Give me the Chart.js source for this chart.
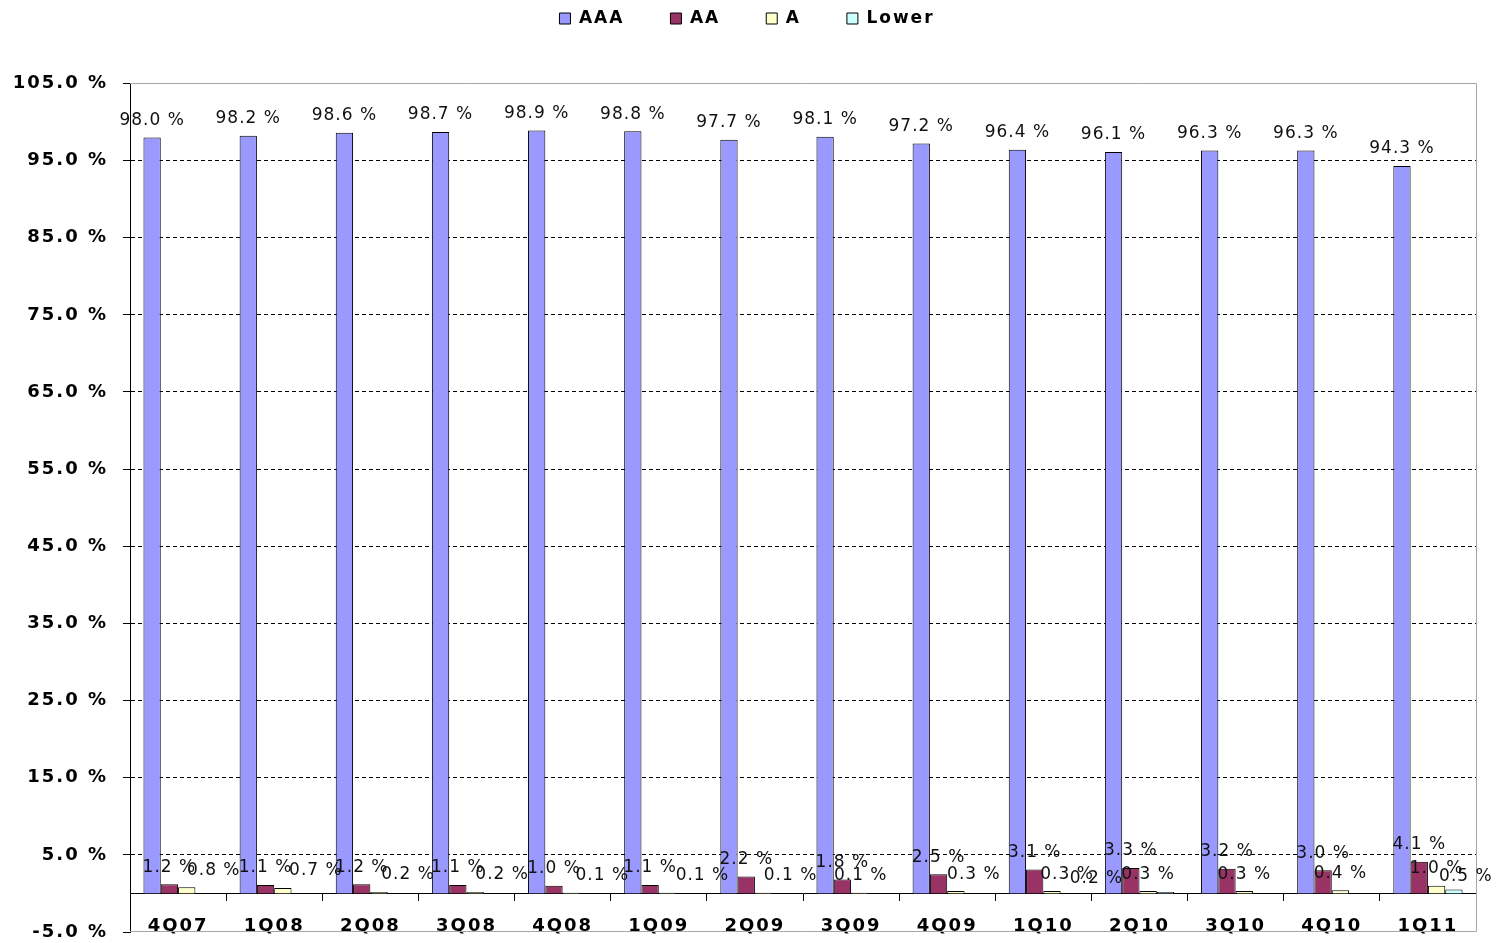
<!DOCTYPE html>
<html>
<head>
<meta charset="utf-8">
<script src="https://cdn.jsdelivr.net/npm/chart.js@4.4.1/dist/chart.umd.min.js"></script>
<style>
  html, body { margin: 0; padding: 0; background: #fff; }
  canvas { display: block; }
</style>
</head>
<body>
<canvas id="chart" width="1498" height="943"></canvas>
<script>
const QUARTERS = ["4Q07", "1Q08", "2Q08", "3Q08", "4Q08", "1Q09", "2Q09", "3Q09", "4Q09", "1Q10", "2Q10", "3Q10", "4Q10", "1Q11"];
const AAA   = [98.0, 98.2, 98.6, 98.7, 98.9, 98.8, 97.7, 98.1, 97.2, 96.4, 96.1, 96.3, 96.3, 94.3];
const AA    = [1.2, 1.1, 1.2, 1.1, 1.0, 1.1, 2.2, 1.8, 2.5, 3.1, 3.3, 3.2, 3.0, 4.1];
const RATED_A = [0.8, 0.7, 0.2, 0.2, 0.1, 0.1, 0.1, 0.1, 0.3, 0.3, 0.3, 0.3, 0.4, 1.0];
const LOWER = [0, 0, 0, 0, 0, 0, 0, 0, 0, 0, 0.2, 0, 0, 0.5];

const Y_MIN = -5, Y_MAX = 105, Y_STEP = 10;

// nudges for the value labels (px), like the hand-placed ones in the sheet
const LABEL_SHIFT = {
  "AAA":   [0, 0, 0, 0, 0, 0, 0, 0, 0, 0, 0, 0, 0, 0],
  "AA":    [0, 0, 0, 0, 0, 0, 0, 0, 0, 0, 0, 0, 0, 0],
  "A":     [27, 33, 29, 27, 31, 35, 27, 1, 18, 15, 0, 0, 0, 0],
  "Lower": [0, 0, 0, 0, 0, 0, 0, 0, 0, 0, -69, 0, 0, 12]
};

const FONT = "'DejaVu Sans', Verdana, sans-serif";
Chart.defaults.font.family = FONT;
Chart.defaults.color = "#000";

// wider letter spacing, closer to the old Verdana rendering
const spacing = {
  id: "spacing",
  beforeUpdate(chart){ chart.ctx.letterSpacing = "2px"; },
  beforeDraw(chart){ chart.ctx.letterSpacing = "2px"; },
  afterLayout(chart){
    // legend sits a little right of centre in the original
    if (chart.legend){ chart.legend.left += 9; chart.legend.right += 9; }
  }
};

// grey plot frame on top / right / bottom
const frame = {
  id: "frame",
  beforeDatasetsDraw(chart){
    const {ctx, chartArea: a} = chart;
    const t = Math.round(a.top) + 0.5, r = Math.round(a.right) + 0.5, b = Math.round(a.bottom) - 0.5;
    ctx.save();
    ctx.strokeStyle = "#a6a6a6";
    ctx.lineWidth = 1;
    ctx.beginPath();
    ctx.moveTo(a.left, t); ctx.lineTo(r, t); ctx.lineTo(r, b); ctx.lineTo(a.left, b);
    ctx.stroke();
    ctx.restore();
  }
};

// value labels above every non-zero bar
const barLabels = {
  id: "barLabels",
  afterDatasetsDraw(chart){
    const ctx = chart.ctx;
    ctx.save();
    ctx.font = "17px " + FONT;
    ctx.letterSpacing = "1px";
    ctx.fillStyle = "#111";
    ctx.textAlign = "center";
    ctx.textBaseline = "middle";
    chart.data.datasets.forEach((ds, i) => {
      const shift = LABEL_SHIFT[ds.label];
      chart.getDatasetMeta(i).data.forEach((bar, j) => {
        const v = ds.data[j];
        if (!v) return;
        const dy = ds.label === "Lower" ? 13 : 17;
        ctx.fillText(v.toFixed(1) + " %", bar.x + shift[j], bar.y - dy);
      });
    });
    ctx.restore();
  }
};

function series(label, data, color){
  return { label, data, backgroundColor: color, borderColor: "#000", borderWidth: 1 };
}

new Chart(document.getElementById("chart"), {
  type: "bar",
  data: {
    labels: QUARTERS,
    datasets: [
      series("AAA", AAA, "#9999ff"),
      series("AA", AA, "#993366"),
      series("A", RATED_A, "#ffffcc"),
      series("Lower", LOWER, "#ccffff")
    ]
  },
  options: {
    responsive: false,
    animation: false,
    devicePixelRatio: 1,
    layout: { padding: { top: -36, right: 22, bottom: 11, left: 0 } },
    datasets: { bar: { categoryPercentage: 0.72, barPercentage: 1 } },
    scales: {
      x: {
        position: { y: 0 },
        ticks: { color: "#000", padding: 15, font: { size: 18, weight: "bold" } },
        grid: { offset: true, drawOnChartArea: false, tickLength: 7, color: "#000" },
        border: { display: true, color: "#000" }
      },
      y: {
        min: Y_MIN,
        max: Y_MAX,
        afterFit(s){ s.width = 130; s.paddingTop = 0; s.paddingBottom = 0; },
        ticks: {
          stepSize: Y_STEP,
          padding: 15,
          color: "#000",
          font: { size: 18, weight: "bold" },
          callback: v => v.toFixed(1) + " %"
        },
        grid: {
          color: c => (c.tick && (c.tick.value === Y_MIN || c.tick.value === Y_MAX)) ? "rgba(0,0,0,0)" : "#000",
          tickColor: "#000",
          tickLength: 7
        },
        border: { display: true, color: "#000", dash: [4, 3] }
      }
    },
    plugins: {
      legend: {
        position: "top",
        weight: 3000,
        labels: { boxWidth: 11, boxHeight: 11, padding: 46, color: "#000", font: { size: 17, weight: "bold" } }
      },
      title: { display: true, text: "", padding: { top: 0, bottom: 32 }, font: { size: 12 } },
      tooltip: { enabled: false }
    }
  },
  plugins: [spacing, frame, barLabels]
});
</script>
</body>
</html>
